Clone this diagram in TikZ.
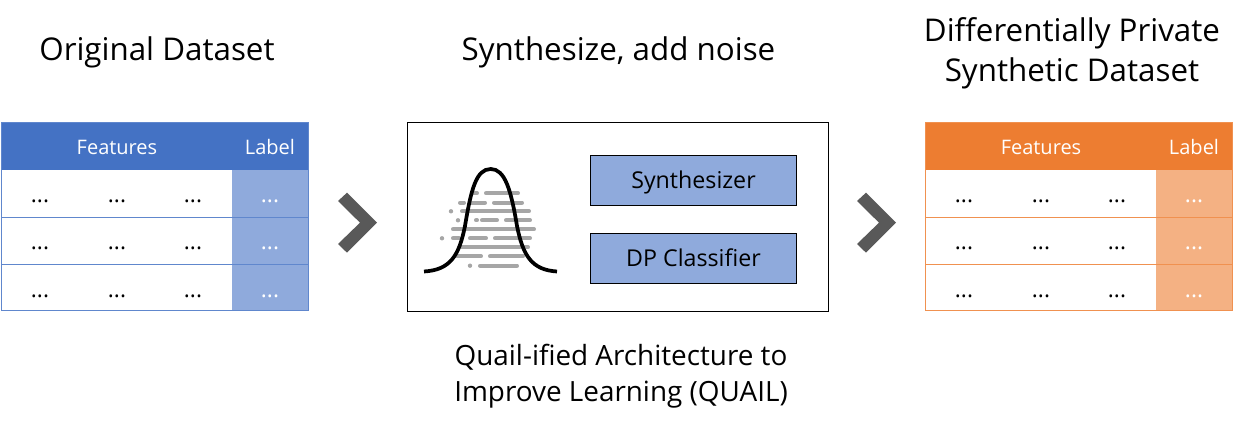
\documentclass[tikz,border=0pt]{standalone}
\usepackage{fontspec}
\setmainfont{Open Sans}
\definecolor{bluehead}{HTML}{4472C4}
\definecolor{bluecell}{HTML}{8FAADC}
\definecolor{orangehead}{HTML}{ED7D31}
\definecolor{orangecell}{HTML}{F4B183}
\definecolor{chevrongray}{HTML}{595959}
\definecolor{dashgray}{HTML}{A6A6A6}
\tikzset{
  titletext/.style={align=center,inner sep=0pt,font=\fontsize{23.5}{30}\selectfont},
  captiontext/.style={align=center,inner sep=0pt,font=\fontsize{20.9}{27}\selectfont},
  headtext/.style={inner sep=0pt,text=white,font=\fontsize{15}{17}\selectfont},
  celldots/.style={inner sep=0pt,font=\fontsize{17}{19}\selectfont},
  stepbox/.style={draw=black,line width=0.6pt,fill=bluecell,minimum width=154.5pt,minimum height=37.5pt,inner sep=0pt,text height=15.5pt,text depth=2.5pt,font=\fontsize{17.4}{20}\selectfont},
  noisebar/.style={draw=dashgray,line width=3pt,line cap=round},
}
\begin{document}
\begin{tikzpicture}[x=0.75pt,y=0.75pt,yscale=-1,xscale=1]
\useasboundingbox (0,0) rectangle (1248,427);
% titles
\node [titletext] (origtitle) at (157,52.5) {Original Dataset};
\node [titletext] (synthtitle) at (618.5,52.5) {Synthesize, add noise};
\node [titletext] (privtitle) at (1072,53.5) {Differentially Private\\Synthetic Dataset};
\node [captiontext] (quailcaption) at (621,376.5) {Quail-ified Architecture to\\Improve Learning (QUAIL)};
% the two tables
\foreach \dx/\headcol/\cellcol/\tab in {0/bluehead/bluecell/orig,924/orangehead/orangecell/priv}{
  \begin{scope}[shift={(\dx,0)}]
    \fill [\cellcol] (232,170) rectangle (308.5,311);
    \fill [\headcol] (1,122) rectangle (308.5,170);
    \foreach \yy in {217.5,264.5}
      \draw [\headcol!85!white,line width=0.75pt] (1,\yy) -- (308.5,\yy);
    \draw [\headcol!85!white,line width=0.75pt] (1.5,122.5) rectangle (308.5,310.5);
    \node [headtext] (\tab features) at (117,147.5) {Features};
    \node [headtext] (\tab label) at (270,147.5) {Label};
    \foreach \cy [count=\r] in {201,248,296}{
      \foreach \cx [count=\c] in {40,117,193}
        \node [celldots] (\tab cell\r\c) at (\cx,\cy) {...};
      \node [celldots,text=white] (\tab cell\r l) at (270,\cy) {...};
    }
  \end{scope}
}
% chevrons
\foreach \dx in {0,519}{
  \fill [chevrongray,shift={(\dx,0)}] (338,201) -- (347,192.7) -- (377,222.7) -- (347,252.7) -- (338,244) -- (360,222.7) -- cycle;
}
% middle panel
\draw [line width=0.6pt] (407.5,122.5) rectangle (828.5,311);
\node [stepbox] (synth) at (693.5,180) {Synthesizer};
\node [stepbox] (dpclass) at (693.5,258) {DP Classifier};
% noise bars
\foreach \xa/\xb/\yy in {472/477/193.3,486/518/193.3,
  460/464/202.7,471/485/202.7,494/522/202.7,
  462/529/211.3,
  476/477/220.3,482/497/220.3,506/530/220.3,
  453/534/229.3,
  453/459/238.3,470/486/238.3,495/530/238.3,
  461/528/247.3,
  457/481/256.3,490/523/256.3,
  480/517/265.7}
  \draw [noisebar] (\xa,\yy) -- (\xb,\yy);
\foreach \xa/\yy in {451/211.3,458/220.3,442/238.3,470/265.7}
  \fill [dashgray] (\xa,\yy) circle (2.2);
% bell curve
\draw [line width=2.8pt] (424,271.5) .. controls (450,270) and (459,256) .. (465,226) .. controls (471,190) and (476,169) .. (490.7,169) .. controls (505,169) and (511,190) .. (517,226) .. controls (523,256) and (532,270) .. (557,271.5);
\end{tikzpicture}
\end{document}
